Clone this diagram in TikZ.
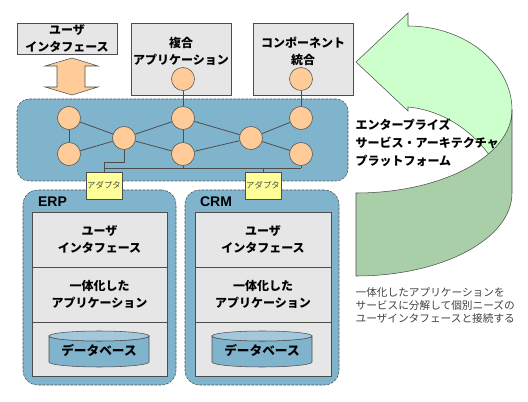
\documentclass[tikz,border=0pt]{standalone}
\usepackage{fontspec}
\setmainfont{Noto Sans CJK JP}
\newfontfamily\latinfont{Liberation Sans}
\usepackage{tikz}
\usetikzlibrary{positioning}
\usepackage{xcolor}
\definecolor{platblue}{HTML}{80B3CC}
\definecolor{dbtop}{HTML}{A3C8DB}
\definecolor{boxgray}{HTML}{E6E6E6}
\definecolor{peach}{HTML}{FFCC99}
\definecolor{adapteryellow}{HTML}{FFFF99}
\definecolor{lightgreen}{HTML}{CCFFCC}
\definecolor{darkgreen}{HTML}{A8CFA8}
\definecolor{edgegray}{HTML}{4D4D4D}

\begin{document}
\begin{tikzpicture}[x=0.75pt, y=-0.75pt,
    every node/.style={font=\fontsize{9}{12.5}\selectfont\bfseries, align=center, inner sep=1pt},
    topbox/.style={draw=edgegray, fill=boxgray, minimum width=75pt},
    hub/.style={circle, draw=edgegray, fill=peach, minimum size=17.25pt, inner sep=0pt},
    wire/.style={draw=edgegray, line width=0.6pt},
    sysbox/.style={draw=edgegray, dash pattern=on 2pt off 1pt, fill=platblue, rounded corners=11pt},
    layer/.style={draw=edgegray, fill=boxgray, minimum height=41.25pt, outer sep=0pt},
    adapter/.style={draw=edgegray, fill=adapteryellow, minimum width=27pt, minimum height=20.25pt, font=\fontsize{6.3}{7}\selectfont, text=black!70},
    sysname/.style={font=\latinfont\bfseries\fontsize{10.5}{12}\selectfont, anchor=west},
    note/.style={font=\fontsize{8}{9.4}\selectfont, text=black!75, align=left, anchor=west}]
    \useasboundingbox (0,0) rectangle (528,402);

    % top row
    \node[topbox, minimum height=23.25pt] (ui) at (67,38.5) {ユーザ\\インタフェース};
    \node[topbox, minimum height=54pt] (composite) at (181,59) {};
    \node (compositet) at (181,51.5) {複合\\アプリケーション};
    \node[topbox, minimum height=54pt] (integ) at (303,59) {};
    \node (integt) at (303,51.5) {コンポーネント\\統合};
    \draw[draw=edgegray, fill=peach] (72,58) -- (98,66) -- (85,66) -- (85,87) -- (98,87) -- (72,95)
        -- (45,87) -- (57,87) -- (57,66) -- (45,66) -- cycle;

    % platform
    \node[sysbox, rounded corners=9pt, minimum width=248.25pt, minimum height=61.5pt] (plat) at (182.5,140) {};
    \node[hub] (c0) at (183,79) {};
    \node[hub] (e0) at (301,79) {};
    \node[hub] (a1) at (69,118) {};
    \node[hub] (a2) at (69,154) {};
    \node[hub] (b)  at (124,138) {};
    \node[hub] (c1) at (183,118) {};
    \node[hub] (c2) at (183,154) {};
    \node[hub] (d)  at (251,138) {};
    \node[hub] (e1) at (301,118) {};
    \node[hub] (e2) at (301,154) {};
    \draw[wire] (a1) -- (a2);
    \draw[wire] (a1) -- (b);
    \draw[wire] (a2) -- (b);
    \draw[wire] (b)  -- (c1);
    \draw[wire] (b)  -- (c2);
    \draw[wire] (c0) -- (c1);
    \draw[wire] (c1) -- (c2);
    \draw[wire] (c1) -- (d);
    \draw[wire] (c2) -- (d);
    \draw[wire] (d)  -- (e1);
    \draw[wire] (d)  -- (e2);
    \draw[wire] (e0) -- (e1);

    % ERP and CRM
    \node[sysbox, minimum width=114.75pt, minimum height=146.25pt] (erp) at (99.5,287.5) {};
    \node[sysbox, minimum width=115.5pt, minimum height=146.25pt] (crm) at (262,287.5) {};
    \node[sysname] (erpt) at (36.5,202) {ERP};
    \node[sysname] (crmt) at (198.5,202) {CRM};
    \node[layer, minimum width=101.25pt] (erpui) at (99.5,239.5) {ユーザ\\インタフェース};
    \node[layer, minimum width=101.25pt, below=0pt of erpui] (erpapp) {一体化した\\アプリケーション};
    \node[layer, minimum width=101.25pt, minimum height=40.5pt, below=0pt of erpapp] (erpdata) {};
    \node[layer, minimum width=102pt] (crmui) at (263,239.5) {ユーザ\\インタフェース};
    \node[layer, minimum width=102pt, below=0pt of crmui] (crmapp) {一体化した\\アプリケーション};
    \node[layer, minimum width=102pt, minimum height=40.5pt, below=0pt of crmapp] (crmdata) {};
    \draw[draw=edgegray, fill=platblue] (49,336) -- (49,362) arc[start angle=180, end angle=0, x radius=50, y radius=5]
        -- (149,336) arc[start angle=0, end angle=180, x radius=50, y radius=5] -- cycle;
    \draw[draw=edgegray, fill=dbtop] (99,336) ellipse[x radius=50, y radius=5];
    \draw[draw=edgegray, fill=platblue] (212,336) -- (212,362) arc[start angle=180, end angle=0, x radius=50, y radius=5]
        -- (312,336) arc[start angle=0, end angle=180, x radius=50, y radius=5] -- cycle;
    \draw[draw=edgegray, fill=dbtop] (262,336) ellipse[x radius=50, y radius=5];
    \node[font=\fontsize{9.5}{12}\selectfont\bfseries] (erpdb) at (99,351) {データベース};
    \node[font=\fontsize{9.5}{12}\selectfont\bfseries] (crmdb) at (262,351) {データベース};

    % adapters
    \node[adapter] (ad1) at (104,185.5) {アダプタ};
    \node[adapter] (ad2) at (263,185.5) {アダプタ};
    \coordinate (bend) at (104,162);
    \coordinate (busl) at (104,168);
    \coordinate (busr) at (301,168);
    \draw[wire] (b) |- (bend) -- (ad1);
    \draw[wire] (busl) -- (busr);
    \draw[wire] (c2) -- (c2 |- busl);
    \draw[wire] (e2) -- (busr);
    \draw[wire] (ad2) -- (ad2 |- busl);

    % loop arrow
    \draw[draw=edgegray, fill=lightgreen] (356,62) -- (408,13) -- (408,26) .. controls (465,26) and (512,64) .. (512,110)
        -- (510,140) -- (490,156) .. controls (470,128) and (440,110) .. (408,107) -- (408,111) -- cycle;
    \draw[draw=edgegray, fill=darkgreen] (356,193) .. controls (442,193) and (512,156) .. (512,110)
        -- (512,193) .. controls (512,239) and (442,276) .. (356,276) -- cycle;
    \node[anchor=west, align=left, font=\fontsize{9}{13.5}\selectfont\bfseries] (platt) at (354,143)
        {エンタープライズ\\サービス・アーキテクチャ\\プラットフォーム};
    \node[note] (remark) at (354,305.5) {一体化したアプリケーションを\\サービスに分解して個別ニーズの\\ユーザインタフェースと接続する};
\end{tikzpicture}
\end{document}
